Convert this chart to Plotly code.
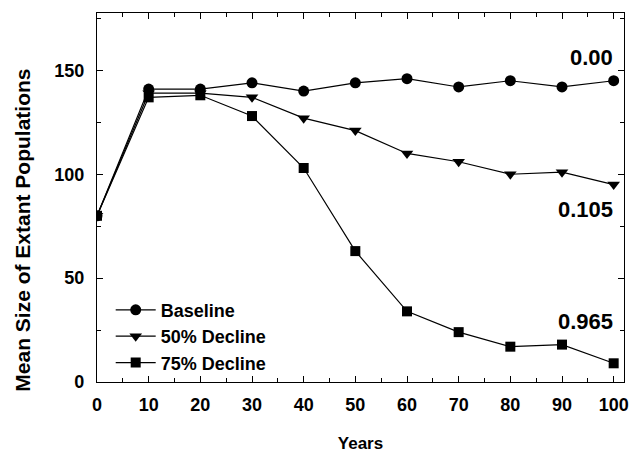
import plotly.graph_objects as go

years = [0, 10, 20, 30, 40, 50, 60, 70, 80, 90, 100]
baseline = [80, 141, 141, 144, 140, 144, 146, 142, 145, 142, 145]
decline50 = [80, 139, 139, 137, 127, 121, 110, 106, 100, 101, 95]
decline75 = [80, 137, 138, 128, 103, 63, 34, 24, 17, 18, 9]
series_names = ["Baseline", "50% Decline", "75% Decline"]
end_labels = ["0.00", "0.105", "0.965"]
end_label_y = [156, 83, 29]

FONT = "Liberation Sans, Arial, sans-serif"

fig = go.Figure()
for name, vals, sym, size in zip(series_names, [baseline, decline50, decline75],
                                 ["circle", "triangle-down", "square"], [11, 11, 10]):
    fig.add_trace(go.Scatter(
        x=years, y=vals, name=name, mode="lines+markers",
        line=dict(color="black", width=1.2),
        marker=dict(symbol=sym, size=size, color="black"),
    ))

for txt, yv in zip(end_labels, end_label_y):
    fig.add_annotation(x=100.2, y=yv, xref="x", yref="y", text=f"<b>{txt}</b>",
                       showarrow=False, xanchor="right", yanchor="middle",
                       font=dict(family=FONT, size=22, color="black"))

# y-axis title (placed slightly below plot centre, as in the reference)
fig.add_annotation(x=-0.1404, y=0.41, xref="paper", yref="paper",
                   text="<b>Mean Size of Extant Populations</b>", textangle=-90,
                   showarrow=False, xanchor="center", yanchor="middle",
                   font=dict(family=FONT, size=21, color="black"))

axis_common = dict(
    showline=True, linecolor="black", linewidth=1.2, mirror="allticks",
    ticks="inside", ticklen=6, tickwidth=1.2, tickcolor="black",
    showgrid=False, zeroline=False,
    tickfont=dict(family=FONT, size=18, color="black", weight="bold"),
)

fig.update_xaxes(range=[0, 102], tickvals=list(range(0, 101, 10)),
                 minor=dict(ticks="inside", dtick=5, tick0=0, ticklen=4, tickcolor="black", tickwidth=1.2),
                 title=dict(text="<b>Years</b>", font=dict(family=FONT, size=17, color="black"), standoff=24),
                 ticklabelstandoff=6,
                 **axis_common)
fig.update_yaxes(range=[0, 177.6], tickvals=[0, 50, 100, 150],
                 minor=dict(ticks="inside", dtick=25, tick0=0, ticklen=4, tickcolor="black", tickwidth=1.2),
                 ticklabelstandoff=8,
                 **axis_common)

fig.update_layout(
    width=632, height=453,
    margin=dict(l=97, r=8, t=13, b=71, autoexpand=False),
    paper_bgcolor="white", plot_bgcolor="white",
    showlegend=True,
    legend=dict(x=0.026, y=0.245, xanchor="left", yanchor="top",
                font=dict(family=FONT, size=18, color="black", weight="bold"),
                bgcolor="rgba(0,0,0,0)", itemwidth=40, tracegroupgap=0),
)

fig.write_html("out.html", config={"displayModeBar": False})

with open("out.html", "r", encoding="utf-8") as f:
    html = f.read()
html = html.replace("<body>", '<body style="margin:0;padding:0;overflow:hidden">', 1)
with open("out.html", "w", encoding="utf-8") as f:
    f.write(html)
